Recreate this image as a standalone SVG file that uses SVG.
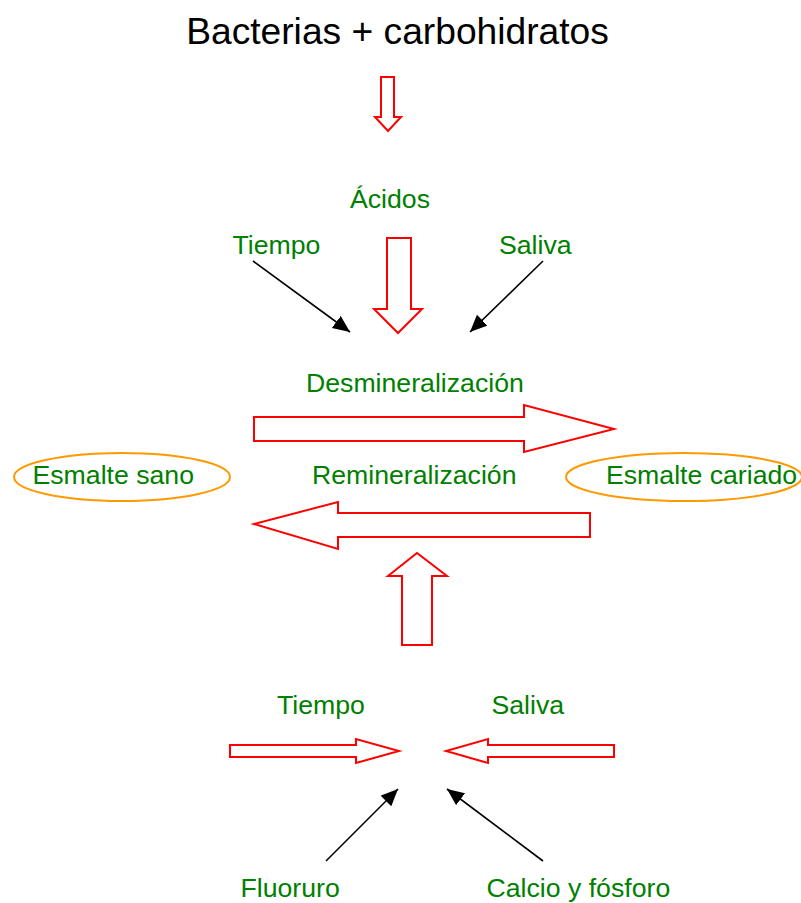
<svg xmlns="http://www.w3.org/2000/svg" width="801" height="903" viewBox="0 0 801 903">
  <style>
    .title { font-family: "Liberation Sans", Arial, sans-serif; font-size: 37.2px; fill: #000000; }
    .lbl { font-family: "Liberation Sans", Arial, sans-serif; font-size: 26.67px; fill: #008000; }
    .block { fill: #ffffff; stroke: #ff0000; stroke-width: 2; stroke-linejoin: miter; }
    .ptr { stroke: #000000; stroke-width: 1.6; fill: none; }
    .enamel { fill: none; stroke: #ff9900; stroke-width: 2; }
  </style>
  <defs>
    <marker id="head" markerUnits="userSpaceOnUse" markerWidth="18" markerHeight="16" refX="17" refY="7.5" orient="auto">
      <path d="M0,0 L17,7.5 L0,15 z" fill="#000000"/>
    </marker>
  </defs>

  <rect width="801" height="903" fill="#ffffff"/>

  <!-- Title -->
  <g id="title">
    <text class="title" x="397.5" y="44" text-anchor="middle">Bacterias + carbohidratos</text>
  </g>

  <!-- Block arrows and pointer arrows -->
  <g id="connectors">
    <!-- title to acids -->
    <polygon class="block" points="381,77 394,77 394,117 401,117 388,131 375,117 381,117"/>
    <!-- acids to demineralisation -->
    <polygon class="block" points="387,238 411,238 411,309 422,309 398,333 374,309 387,309"/>
    <!-- demineralisation -->
    <polygon class="block" points="254,417 524,417 524,405 614,429 524,452 524,441 254,441"/>
    <!-- remineralisation -->
    <polygon class="block" points="590,513 338,513 338,502 254,524 338,549 338,537 590,537"/>
    <!-- upward feed -->
    <polygon class="block" points="402,645 432,645 432,576 447,576 417,553 388,576 402,576"/>
    <!-- bottom pair -->
    <polygon class="block" points="230,745 356,745 356,739 399,751 356,763 356,757 230,757"/>
    <polygon class="block" points="614,745 488,745 488,739 446,751 488,763 488,757 614,757"/>

    <!-- pointers -->
    <line class="ptr" x1="253" y1="261" x2="350" y2="332" marker-end="url(#head)"/>
    <line class="ptr" x1="543" y1="261" x2="470" y2="332" marker-end="url(#head)"/>
    <line class="ptr" x1="326" y1="861" x2="398" y2="789" marker-end="url(#head)"/>
    <line class="ptr" x1="543" y1="861" x2="447" y2="789" marker-end="url(#head)"/>
  </g>

  <g id="acidos"><text class="lbl" x="350" y="208">Ácidos</text></g>
  <g id="tiempo-top"><text class="lbl" x="232.5" y="254">Tiempo</text></g>
  <g id="saliva-top"><text class="lbl" x="499" y="254">Saliva</text></g>
  <g id="desmineralizacion"><text class="lbl" x="306" y="391.5">Desmineralización</text></g>

  <g id="esmalte-sano">
    <ellipse class="enamel" cx="122" cy="477" rx="108" ry="24"/>
    <text class="lbl" x="32.5" y="483.5">Esmalte sano</text>
  </g>
  <g id="remineralizacion"><text class="lbl" x="312" y="483.5">Remineralización</text></g>
  <g id="esmalte-cariado">
    <ellipse class="enamel" cx="684" cy="477" rx="118" ry="24"/>
    <text class="lbl" x="606" y="483.5">Esmalte cariado</text>
  </g>

  <g id="tiempo-bottom"><text class="lbl" x="277" y="713.5">Tiempo</text></g>
  <g id="saliva-bottom"><text class="lbl" x="491.5" y="713.5">Saliva</text></g>
  <g id="fluoruro"><text class="lbl" x="240.5" y="897">Fluoruro</text></g>
  <g id="calcio"><text class="lbl" x="486.5" y="897">Calcio y fósforo</text></g>
</svg>
